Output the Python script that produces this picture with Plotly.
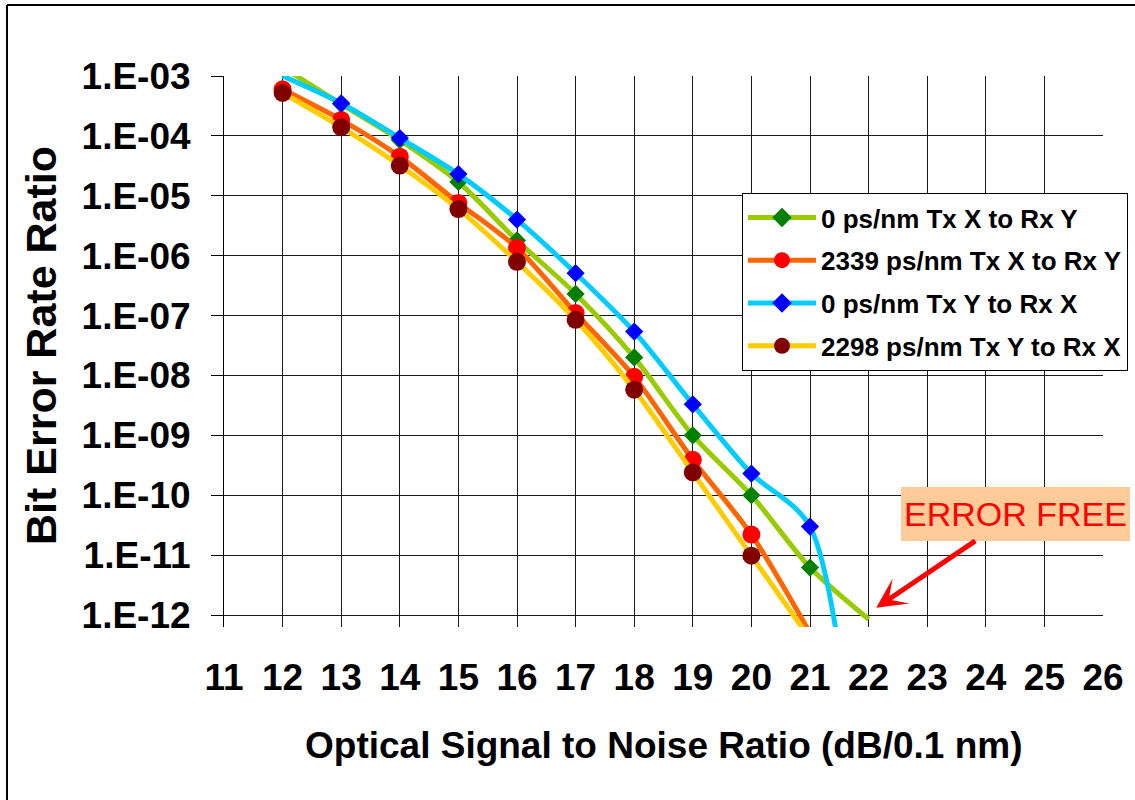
import math
import plotly.graph_objects as go

# ---------------- data ----------------
osnr_a = [12, 13, 14, 15, 16, 17, 18, 19, 20, 21, 22]
ber_0_x_to_y = [1.4e-3, 3.4e-4, 8.5e-5, 1.7e-5, 1.8e-6, 2.3e-7, 2.0e-8, 1.0e-9, 1.0e-10, 6.2e-12, 8.5e-13]

osnr_b = [12, 13, 14, 15, 16, 17, 18, 19, 20, 21]
ber_2339_x_to_y = [6.0e-4, 1.85e-4, 4.5e-5, 7.6e-6, 1.35e-6, 1.1e-7, 9.5e-9, 3.9e-10, 2.2e-11, 5e-13]

osnr_c = [12, 13, 14, 15, 16, 17, 18, 19, 20, 21, 22]
ber_0_y_to_x = [1.0e-3, 3.5e-4, 9.2e-5, 2.3e-5, 4.0e-6, 5.1e-7, 5.4e-8, 3.3e-9, 2.3e-10, 3.0e-11, 1e-17]

osnr_d = [12, 13, 14, 15, 16, 17, 18, 19, 20, 21]
ber_2298_y_to_x = [5.2e-4, 1.4e-4, 3.2e-5, 6.0e-6, 7.9e-7, 8.5e-8, 5.8e-9, 2.4e-10, 9.8e-12, 4e-13]

series_names = [
    "0 ps/nm Tx X to Rx Y",
    "2339 ps/nm Tx X to Rx Y",
    "0 ps/nm Tx Y to Rx X",
    "2298 ps/nm Tx Y to Rx X",
]

y_tick_vals = [1e-3, 1e-4, 1e-5, 1e-6, 1e-7, 1e-8, 1e-9, 1e-10, 1e-11, 1e-12]
y_tick_text = ["1.E-03", "1.E-04", "1.E-05", "1.E-06", "1.E-07", "1.E-08",
               "1.E-09", "1.E-10", "1.E-11", "1.E-12"]
x_tick_vals = list(range(11, 27))

# ---------------- styling ----------------
W, H = 1135, 800
ML, MR, MT, MB = 224, 32, 76, 173
FONT = "Arial, Liberation Sans, sans-serif"
YMIN_LOG, YMAX_LOG = -12.2, -3

styles = [
    dict(line="#99CC00", marker="#008000", symbol="diamond", size=14),
    dict(line="#FF6600", marker="#FF0000", symbol="circle", size=18),
    dict(line="#00CCFF", marker="#0000FF", symbol="diamond", size=14),
    dict(line="#FFCC00", marker="#800000", symbol="circle", size=18),
]
all_series = [
    (osnr_a, ber_0_x_to_y),
    (osnr_b, ber_2339_x_to_y),
    (osnr_c, ber_0_y_to_x),
    (osnr_d, ber_2298_y_to_x),
]


def visible_sizes(vals, s):
    # markers are only shown inside the axis range 1E-12 .. 1E-03
    out = []
    for v in vals:
        lv = math.log10(v)
        out.append(s if (-12.001 <= lv <= -2.999) else 0)
    return out


fig = go.Figure()
for (xs, ys), st in zip(all_series, styles):
    fig.add_trace(go.Scatter(
        x=xs, y=ys, mode="lines+markers",
        line=dict(color=st["line"], width=5, shape="spline", smoothing=0.8),
        marker=dict(color=st["marker"], symbol=st["symbol"], opacity=1,
                    size=visible_sizes(ys, st["size"]), line=dict(width=0)),
        cliponaxis=False, showlegend=False, hoverinfo="x+y",
    ))

# legend entries
for i, (name, st) in enumerate(zip(series_names, styles)):
    fig.add_trace(go.Scatter(
        x=[None], y=[None], mode="lines+markers", name=name,
        legendgroup="g%d" % i,
        line=dict(color=st["line"], width=5),
        marker=dict(color=st["marker"], symbol=st["symbol"], opacity=1,
                    size=st["size"] if st["symbol"] == "circle" else 15,
                    line=dict(width=0)),
    ))

pw = W - ML - MR
ph = H - MT - MB


def px_x(p):
    return (p - ML) / pw


def px_y(p):
    return (H - MB - p) / ph


fig.update_layout(
    width=W, height=H,
    margin=dict(l=ML, r=MR, t=MT, b=MB, pad=0, autoexpand=False),
    paper_bgcolor="white", plot_bgcolor="white",
    font=dict(family=FONT, color="black"),
    showlegend=True,
    legend=dict(
        xref="container", yref="container",
        x=742 / W, y=1 - 193 / H, xanchor="left", yanchor="top",
        bgcolor="white", bordercolor="black", borderwidth=1,
        font=dict(family=FONT, size=26, color="black", weight="bold"),
        traceorder="grouped", tracegroupgap=6, itemwidth=68,
    ),
    xaxis=dict(
        range=[11, 26], tickmode="array", tickvals=x_tick_vals,
        showgrid=True, gridcolor="#1a1a1a", gridwidth=1,
        zeroline=False, showline=False, ticks="",
        tickfont=dict(family=FONT, size=37, color="black", weight="bold"),
        ticklabelstandoff=25,
    ),
    yaxis=dict(
        type="log", range=[YMIN_LOG, YMAX_LOG],
        tickmode="array", tickvals=y_tick_vals, ticktext=y_tick_text,
        showgrid=True, gridcolor="#1a1a1a", gridwidth=1,
        zeroline=False, showline=True, linecolor="black", linewidth=1,
        ticks="outside", ticklen=12, tickcolor="black", tickwidth=1,
        tickfont=dict(family=FONT, size=37, color="black", weight="bold"),
        ticklabelstandoff=13,
    ),
)

# titles
fig.add_annotation(
    text="Optical Signal to Noise Ratio (dB/0.1 nm)", xref="paper", yref="paper",
    x=0.5, y=px_y(745), xanchor="center", yanchor="middle", showarrow=False,
    font=dict(family=FONT, size=37, color="black", weight="bold"),
)
fig.add_annotation(
    text="Bit Error Rate Ratio", xref="paper", yref="paper",
    x=px_x(41), y=px_y(346), xanchor="center", yanchor="middle", showarrow=False,
    textangle=-90,
    font=dict(family=FONT, size=43, color="black", weight="bold"),
)

# ERROR FREE call-out
fig.add_annotation(
    text="ERROR FREE", xref="x", yref="y",
    x=22.13, y=-11.88, ax=139, ay=-94, axref="pixel", ayref="pixel",
    showarrow=True, arrowhead=3, arrowsize=1.0, arrowwidth=5, arrowcolor="#FF0000",
    bgcolor="#FFCC99", borderpad=0, borderwidth=0, width=229, height=54,
    font=dict(family=FONT, size=34, color="#FF0000"),
)

# plot-area grey border (top & right) and outer chart border (top & left)
fig.add_shape(type="line", xref="paper", yref="y", x0=0, x1=1, y0=-3, y1=-3,
              line=dict(color="#888888", width=2))
fig.add_shape(type="line", xref="paper", yref="y", x0=1, x1=1, y0=-12, y1=-3,
              line=dict(color="#888888", width=2))
fig.add_shape(type="line", xref="paper", yref="paper", x0=px_x(7), x1=px_x(1140),
              y0=px_y(5), y1=px_y(5), line=dict(color="black", width=2))
fig.add_shape(type="line", xref="paper", yref="paper", x0=px_x(7), x1=px_x(7),
              y0=px_y(5), y1=px_y(805), line=dict(color="black", width=2))

fig.write_html("out.html",
               config={"displayModeBar": False},
               post_script="document.body.style.margin='0';document.body.style.overflow='hidden';")
